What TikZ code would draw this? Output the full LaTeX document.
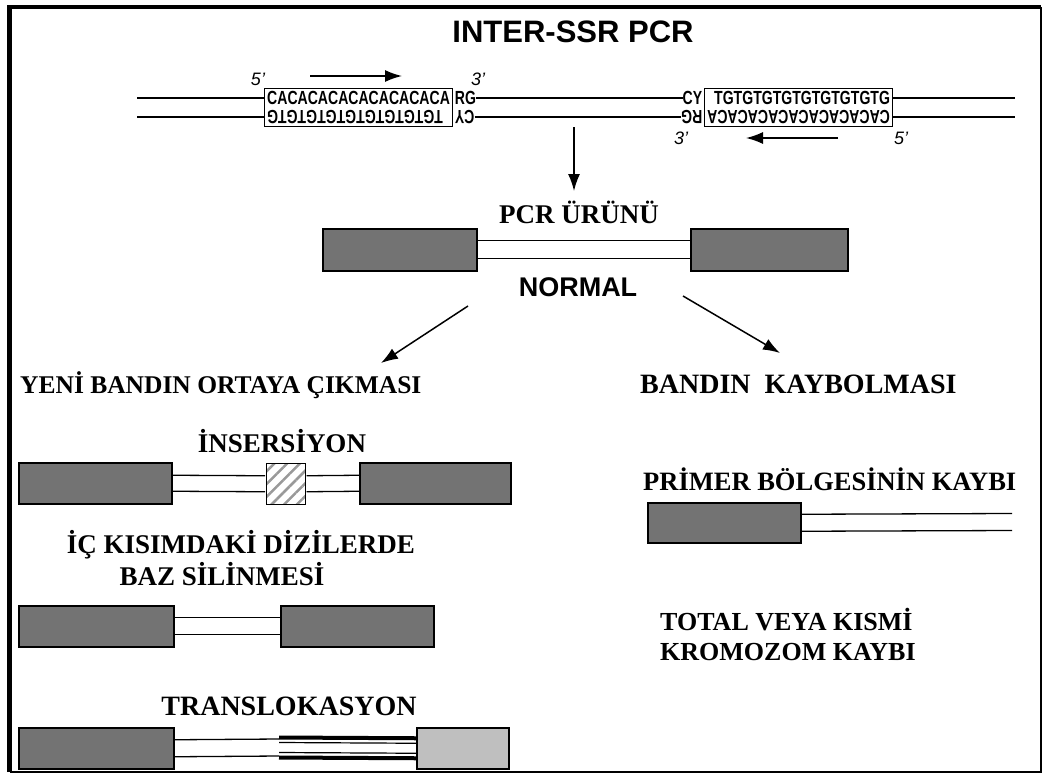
\documentclass[tikz,border=0pt]{standalone}
\usepackage{fontspec}
\setmainfont{Liberation Serif}
\setsansfont{Liberation Sans}
\usetikzlibrary{arrows.meta}
\usetikzlibrary{positioning}
\usetikzlibrary{fit}
\usetikzlibrary{patterns.meta}

\newcommand{\sqtext}[1]{\scalebox{0.74}[1]{#1}}

\tikzset{
  band/.style={draw, line width=1.5pt, fill=black!55, inner sep=0pt, anchor=north west},
  strand/.style={line width=1.3pt},
  seq/.style={font=\sffamily\bfseries\fontsize{19}{19}\selectfont, inner sep=0pt},
  prime/.style={font=\sffamily\itshape\fontsize{18}{18}\selectfont, inner sep=0pt},
  lbl/.style={font=\bfseries\fontsize{27}{30}\selectfont, inner sep=0pt, anchor=base},
  arr/.style={-{Latex[length=17pt,width=12pt]}, line width=1.5pt},
}

\begin{document}
\begin{tikzpicture}[x=1pt, y=-1pt]
    \useasboundingbox (0,0) rectangle (1043,776);
    \draw [line width=2pt] (9.5,772) -| (1041,7);
    \draw [line width=4.5pt] (9.5,772) |- (1041,7);

    % primer sites
    \node [font=\sffamily\bfseries\fontsize{31}{34}\selectfont, inner sep=0pt, anchor=base] (title) at (573,42) {INTER-SSR PCR};

    \node [seq, anchor=west] (ca1) at (267,98) {\sqtext{CACACACACACACACACA}};
    \node [seq, rotate=180, anchor=east] (gt1) at ([yshift=-19pt]ca1.west) {\sqtext{TGTGTGTGTGTGTGTGTG}};
    \node [draw, line width=1pt, inner sep=2.5pt, fit=(ca1)(gt1)] (box1) {};
    \node [seq, anchor=west] (rg1) at ([xshift=1.5pt]box1.east |- ca1) {\sqtext{RG}};
    \node [seq, rotate=180, anchor=east] (cy1) at ([xshift=1.5pt]box1.east |- gt1) {\sqtext{CY}};

    \node [seq, anchor=west] (tg2) at (714,98) {\sqtext{TGTGTGTGTGTGTGTGTG}};
    \node [seq, rotate=180, anchor=west] (ac2) at ([yshift=-19pt]tg2.east) {\sqtext{CACACACACACACACACA}};
    \node [draw, line width=1pt, inner sep=2.5pt, fit=(tg2)(ac2)] (box2) {};
    \node [seq, anchor=east] (cy2) at ([xshift=-1.5pt]box2.west |- tg2) {\sqtext{CY}};
    \node [seq, rotate=180, anchor=west] (rg2) at ([xshift=-1.5pt]box2.west |- ac2) {\sqtext{RG}};

    \coordinate (lt) at (137,98);
    \coordinate (lb) at (137,117);
    \coordinate (rt) at (1015,98);
    \coordinate (rb) at (1015,117);
    \draw [strand] (lt) -- (lt -| box1.west);
    \draw [strand] (lb) -- (lb -| box1.west);
    \draw [strand] (rg1.east) -- (cy2.west);
    \draw [strand] (cy1.west) -- (rg2.east);
    \draw [strand] (rt -| box2.east) -- (rt);
    \draw [strand] (rb -| box2.east) -- (rb);

    \node [prime] (p5a) at (258,79) {5’};
    \node [prime] (p3a) at (478,79) {3’};
    \node [prime] (p3b) at (681,138) {3’};
    \node [prime] (p5b) at (901,138) {5’};
    \coordinate (fa) at (310,76);
    \coordinate (fb) at (402,76);
    \coordinate (ra) at (838,138);
    \coordinate (rbb) at (746,138);
    \draw [arr] (fa) -- (fb);
    \draw [arr] (ra) -- (rbb);

    % product
    \coordinate (da) at (574,127);
    \coordinate (db) at (574,191);
    \draw [arr] (da) -- (db);
    \node [lbl] (pcr) at (579,223) {PCR ÜRÜNÜ};
    \node [band, minimum width=154pt, minimum height=42pt] (pl) at (322,228) {};
    \node [band, minimum width=157pt, minimum height=42pt] (pr) at (690,228) {};
    \draw [strand] ([yshift=9pt]pl.east) -- ([yshift=9pt]pr.west);
    \draw [strand] ([yshift=-9pt]pl.east) -- ([yshift=-9pt]pr.west);
    \node [font=\sffamily\bfseries\fontsize{27}{30}\selectfont, inner sep=0pt, anchor=base] (norm) at (578,296) {NORMAL};

    \coordinate (ka) at (468,306);
    \coordinate (kb) at (381,363);
    \coordinate (kc) at (683,296);
    \coordinate (kd) at (780,353);
    \draw [arr] (ka) -- (kb);
    \draw [arr] (kc) -- (kd);

    \node [lbl, anchor=base west, font=\bfseries\fontsize{25.5}{30}\selectfont] (yeni) at (20,393) {YENİ BANDIN ORTAYA ÇIKMASI};
    \node [lbl, anchor=base west, font=\bfseries\fontsize{28}{30}\selectfont] (kayb) at (640,393) {BANDIN\ \ KAYBOLMASI};

    % insertion
    \node [lbl] (ins) at (282,452) {İNSERSİYON};
    \node [band, minimum width=153pt, minimum height=41pt] (il) at (18,462) {};
    \node [band, fill=white, pattern={Lines[angle=45, distance=9pt, line width=2.5pt]}, pattern color=black!40, minimum width=39pt, minimum height=41pt] (ih) at (265,462) {};
    \node [band, minimum width=151pt, minimum height=41pt] (ir) at (359,462) {};
    \draw [strand] ([yshift=8pt]il.east) -- ([yshift=8pt]ih.west);
    \draw [strand] ([yshift=-8pt]il.east) -- ([yshift=-8pt]ih.west);
    \draw [strand] ([yshift=8pt]ih.east) -- ([yshift=8pt]ir.west);
    \draw [strand] ([yshift=-8pt]ih.east) -- ([yshift=-8pt]ir.west);

    % deletion
    \node [lbl] (ic) at (241,553) {İÇ KISIMDAKİ DİZİLERDE};
    \node [lbl] (baz) at (222,585) {BAZ SİLİNMESİ};
    \node [band, minimum width=155pt, minimum height=41pt] (dl) at (18,605) {};
    \node [band, minimum width=153pt, minimum height=41pt] (dr) at (280,605) {};
    \draw [strand] ([yshift=8.5pt]dl.east) -- ([yshift=8.5pt]dr.west);
    \draw [strand] ([yshift=-8.5pt]dl.east) -- ([yshift=-8.5pt]dr.west);

    % translocation
    \node [lbl, font=\bfseries\fontsize{28}{30}\selectfont] (trans) at (289,715) {TRANSLOKASYON};
    \node [band, minimum width=155pt, minimum height=41pt] (tl) at (18,727) {};
    \node [band, fill=black!25, minimum width=92pt, minimum height=41pt] (tr) at (416,727) {};
    \coordinate (tj) at (279,747.5);
    \draw [strand] ([yshift=8.5pt]tl.east) -- ([yshift=8.5pt]tj);
    \draw [strand] ([yshift=-8.5pt]tl.east) -- ([yshift=-8.5pt]tj);
    \draw [line width=4pt] ([yshift=10pt]tj) -- ([yshift=10pt]tr.west);
    \draw [line width=1.2pt] ([yshift=5pt]tj) -- ([yshift=5pt]tr.west);
    \draw [line width=1.2pt] ([yshift=-5pt]tj) -- ([yshift=-5pt]tr.west);
    \draw [line width=4pt] ([yshift=-10pt]tj) -- ([yshift=-10pt]tr.west);

    % loss of band
    \node [lbl, anchor=base west, font=\bfseries\fontsize{26.5}{30}\selectfont] (prim) at (643,490) {PRİMER BÖLGESİNİN KAYBI};
    \node [band, minimum width=153pt, minimum height=40pt] (ql) at (647,502) {};
    \coordinate (qe) at (1012,522);
    \draw [strand] ([yshift=8.5pt]ql.east) -- ([yshift=8.5pt]qe);
    \draw [strand] ([yshift=-8.5pt]ql.east) -- ([yshift=-8.5pt]qe);

    \node [lbl, anchor=base west, font=\bfseries\fontsize{26}{30}\selectfont] (tot) at (660,630) {TOTAL VEYA KISMİ};
    \node [lbl, anchor=base west, font=\bfseries\fontsize{26}{30}\selectfont] (krom) at (660,660) {KROMOZOM KAYBI};
\end{tikzpicture}
\end{document}
